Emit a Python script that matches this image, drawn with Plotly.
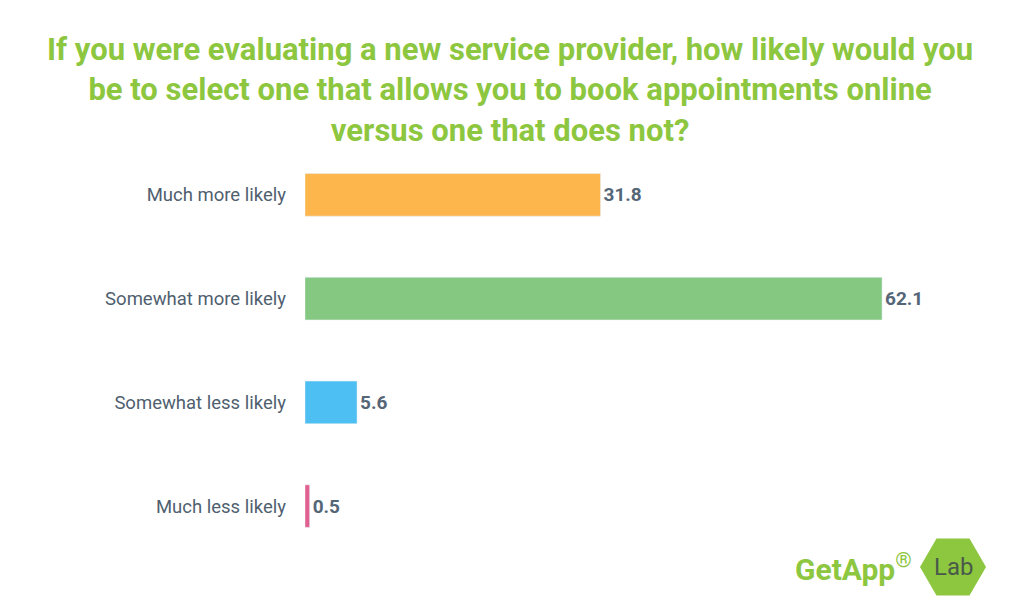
import plotly.graph_objects as go
import math

categories = ["Much more likely", "Somewhat more likely", "Somewhat less likely", "Much less likely"]
values = [31.8, 62.1, 5.6, 0.5]
colors = ["#FDB64B", "#84C882", "#4DBFF2", "#E2608F"]
title = "If you were evaluating a new service provider, how likely would you<br>be to select one that allows you to book appointments online<br>versus one that does not?"

L, R, T, B = 297, 123, 135, 62
OFF = 8
fig = go.Figure(go.Bar(
    x=values, y=categories, orientation="h", marker_color=colors, width=0.41,
    text=[f"<b>{v}</b>" for v in values], textposition="outside",
    textfont=dict(family="Roboto", size=19, color="#556677"), cliponaxis=False,
))
pw, ph = 1024 - L - R, 612 - T - B
def px(x): return (x - OFF - L) / pw
def py(y): return (612 - B - (y - OFF)) / ph

fig.update_layout(
    width=1024, height=612, plot_bgcolor="white", paper_bgcolor="white",
    margin=dict(l=L, r=R, t=T, b=B, autoexpand=False),
    showlegend=False,
    xaxis=dict(range=[0, 65], visible=False),
    yaxis=dict(autorange="reversed", showline=False, showgrid=False, ticks="", automargin=False,
               ticklabelstandoff=18,
               tickfont=dict(family="Roboto", size=18.5, color="#4f5f70")),
    annotations=[
        dict(text="<b>" + title + "</b>", x=px(510), y=py(90), xref="paper", yref="paper",
             xanchor="center", yanchor="middle", showarrow=False,
             font=dict(family="Roboto", size=31, color="#8DC63F")),
        dict(text="<b>GetApp</b><sup>®</sup>", x=px(914), y=py(567), xref="paper", yref="paper",
             showarrow=False, xanchor="right", yanchor="middle",
             font=dict(family="Roboto", size=30, color="#8DC63F")),
        dict(text="Lab", x=px(953), y=py(567), xref="paper", yref="paper", showarrow=False,
             xanchor="center", yanchor="middle",
             font=dict(family="Roboto", size=24, color="#4a5a4a")),
    ],
)
cx, cy, r = 953, 567, 33
pts = [(cx + r*math.cos(math.radians(a)), cy + r*math.sin(math.radians(a))) for a in range(0, 360, 60)]
path = "M " + " L ".join(f"{px(x)},{py(y)}" for x, y in pts) + " Z"
fig.add_shape(type="path", path=path, xref="paper", yref="paper", fillcolor="#8DC63F", line_width=0, layer="below")
fig.write_html("out.html")
